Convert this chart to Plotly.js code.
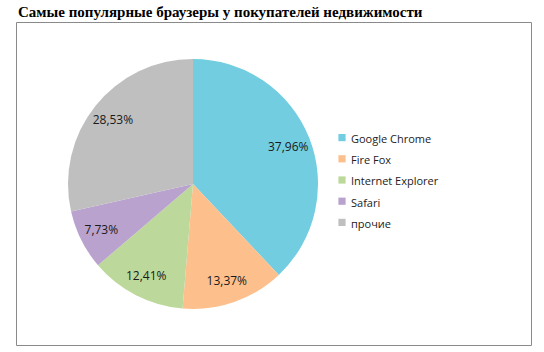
<!DOCTYPE html>
<html><head><meta charset="utf-8">
<script src="https://cdn.plot.ly/plotly-3.0.1.min.js"></script>
<style>html,body{margin:0;padding:0;background:#fff}#c{width:544px;height:352px}</style>
</head><body><div id="c"></div>
<script>
const labels = ["Google Chrome", "Fire Fox", "Internet Explorer", "Safari", "прочие"];
const values = [37.96, 13.37, 12.41, 7.73, 28.53];
const colors = ["#72CDE0", "#FDC08C", "#BCD89A", "#B9A2CE", "#BFBFBF"];
const titleText = "Самые популярные браузеры у покупателей недвижимости";

const W = 544, H = 352;
const legendLabels = labels.map(l => '<span style="font-size:11px">' + l + '</span>');
const domain = {x: [68/W, 318/W], y: [(H-309)/H, (H-59)/H]};
const pieBase = {
  type: "pie",
  labels: legendLabels,
  values: values,
  sort: false,
  direction: "clockwise",
  rotation: 0,
  hoverinfo: "none",
  domain: domain
};
const slices = Object.assign({}, pieBase, {
  marker: {colors: colors, line: {width: 0}},
  textinfo: "none",
  showlegend: true
});
const textRing = Object.assign({}, pieBase, {
  hole: 0.64,
  marker: {colors: labels.map(() => "rgba(0,0,0,0)"), line: {width: 0}},
  texttemplate: "%{value:.2f}%",
  textposition: "inside",
  insidetextorientation: "horizontal",
  textfont: {family: "Open Sans, sans-serif", size: 12, color: "#1a1a1a"},
  showlegend: false
});
const layout = {
  width: W, height: H,
  margin: {l: 0, r: 0, t: 0, b: 0},
  paper_bgcolor: "#fff",
  separators: ", ",
  showlegend: true,
  title: {text: "<b>" + titleText + "</b>", x: 18/W, xanchor: "left", y: 1 - 12/H, yanchor: "middle",
    font: {family: "Liberation Serif, serif", size: 15, color: "#000"}},
  legend: {x: 311/W, y: 1 - 122/H, xanchor: "left", yanchor: "top",
    font: {family: "Open Sans, sans-serif", size: 14, color: "#222"}, bgcolor: "rgba(0,0,0,0)"},
  shapes: [{type: "rect", xref: "paper", yref: "paper",
    x0: 16.5/W, x1: 531.5/W, y0: 1 - 345.5/H, y1: 1 - 22.5/H,
    line: {color: "#8a8a8a", width: 1}}]
};
Plotly.newPlot("c", [slices, textRing], layout, {displayModeBar: false, staticPlot: true}).then(() => {
  document.querySelectorAll(".legend .legendpoints path").forEach(p => {
    p.setAttribute("transform", "translate(31,0) scale(0.6)");
  });
});
</script></body></html>
